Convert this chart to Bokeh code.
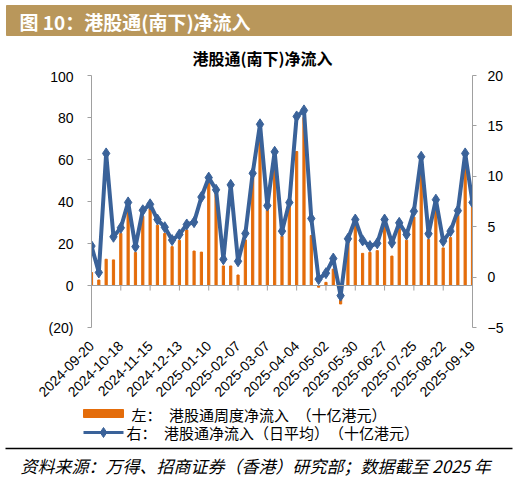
import math
from bokeh.plotting import figure
from bokeh.models import Range1d, LinearAxis, FixedTicker, Span
from bokeh.layouts import column
from bokeh.core.properties import value
from bokeh.embed import file_html
from bokeh.resources import INLINE

# weekly southbound net inflow (HKD bn), left axis
weekly_flow = [6.2, 2.6, 12.5, 12.2, 24.8, 35.7, 15.7, 33.0, 36.6, 28.7, 24.8, 18.5, 21.5,
               26.4, 16.4, 15.9, 49.6, 45.6, 9.3, 9.3, 5.0, 21.7, 52.0, 72.0, 35.8, 61.5,
               23.5, 37.9, 63.8, 80.0, 23.8, -0.8, 1.5, 7.8, -8.8, 21.5, 30.0, 15.3, 15.8,
               16.6, 30.6, 14.0, 27.1, 21.6, 32.6, 55.0, 21.9, 38.1, 17.9, 22.8, 33.5, 56.7,
               38.1]
# daily average net inflow (HKD bn), right axis
daily_avg = [3.08, 0.46, 12.27, 4.0, 4.89, 7.41, 3.02, 6.63, 7.22, 5.71, 4.95, 3.67, 4.23,
             5.22, 5.45, 7.94, 9.87, 8.66, 1.77, 9.15, 1.57, 4.33, 10.3, 15.16, 7.09, 12.43,
             4.56, 7.4, 15.94, 16.54, 5.81, -0.2, 0.39, 1.84, -1.84, 3.8, 5.71, 3.64, 3.08,
             3.35, 5.71, 3.41, 5.38, 4.23, 6.53, 11.94, 4.30, 7.68, 3.57, 4.56, 6.59, 12.27,
             7.41]
date_labels = ["2024-09-20", "2024-10-18", "2024-11-15", "2024-12-13", "2025-01-10",
               "2025-02-07", "2025-03-07", "2025-04-04", "2025-05-02", "2025-05-30",
               "2025-06-27", "2025-07-25", "2025-08-22", "2025-09-19"]
left_ticks = [-20, 0, 20, 40, 60, 80, 100]
right_ticks = [-5, 0, 5, 10, 15, 20]

header_text = "图 10：港股通(南下)净流入"
chart_title = "港股通(南下)净流入"
legend_bar = "左：　港股通周度净流入　（十亿港元）"
legend_line = "右：　港股通净流入（日平均）　（十亿港元）"
source_text = "资料来源：万得、招商证券（香港）研究部；数据截至 2025 年"

ORANGE = "#E46C0A"
BLUE = "#3A6299"
GOLD = "#B9975B"
AXIS = "#A0A0A0"
CJK = "Noto Sans CJK SC"
NUM = "Liberation Sans"
W = 517


def blank_fig(h):
    f = figure(width=W, height=h, output_backend="svg", toolbar_location=None,
               x_range=Range1d(0, W), y_range=Range1d(h, 0),
               x_axis_type=None, y_axis_type=None, min_border=0,
               frame_align=False)
    f.grid.visible = False
    f.outline_line_color = None
    return f


# ---- header + chart title
top = blank_fig(68)
top.quad(left=6, right=511, top=5, bottom=35, color=GOLD)
top.text(x=[19], y=[20.5], text=[header_text], text_color="white",
         text_font=value(CJK), text_font_style="bold", text_font_size="19px",
         text_baseline="middle")
top.text(x=[262], y=[57], text=[chart_title], text_color="black",
         text_font=value(CJK), text_font_style="bold", text_font_size="16px",
         text_align="center", text_baseline="middle")

# ---- main chart
xs = list(range(len(weekly_flow)))
label_pos = [i * 4 for i in range(len(date_labels))]

p = figure(width=W, height=336, output_backend="svg", toolbar_location=None,
           x_range=Range1d(0, len(weekly_flow) - 1), y_range=Range1d(-20, 100),
           min_border_left=91, min_border_right=45, min_border_top=7,
           min_border_bottom=75, frame_align=False)
p.extra_y_ranges = {"right": Range1d(-5, 20)}
p.grid.visible = False
p.outline_line_color = None

p.vbar(x=xs, top=weekly_flow, bottom=0, width=0.3, color=ORANGE)

# zero line with small ticks
p.add_layout(Span(location=0, dimension="width", line_color=AXIS, line_width=1))
p.segment(x0=label_pos, y0=[0] * len(label_pos), x1=label_pos,
          y1=[-2.4] * len(label_pos), line_color=AXIS, line_width=1)

p.line(xs, daily_avg, y_range_name="right", color=BLUE, line_width=4)
p.scatter(xs, daily_avg, y_range_name="right", marker="diamond", size=11,
          color=BLUE)

xa = p.xaxis[0]
xa.ticker = FixedTicker(ticks=label_pos)
xa.major_label_overrides = {pos: lab for pos, lab in zip(label_pos, date_labels)}
xa.major_label_orientation = math.pi / 4
xa.axis_line_color = None
xa.major_tick_line_color = None
xa.minor_tick_line_color = None
xa.major_label_standoff = 10
xa.major_label_text_font = NUM
xa.major_label_text_font_size = "14px"
xa.major_label_text_color = "black"

ya = p.yaxis[0]
ya.ticker = FixedTicker(ticks=left_ticks)
ya.major_label_overrides = {-20: "(20)"}
ya.axis_line_color = AXIS
ya.major_tick_line_color = AXIS
ya.major_tick_in = 0
ya.major_tick_out = 4
ya.minor_tick_line_color = None
ya.major_label_standoff = 14
ya.major_label_text_font = NUM
ya.major_label_text_font_size = "14px"
ya.major_label_text_color = "black"

ra = LinearAxis(y_range_name="right", ticker=FixedTicker(ticks=right_ticks))
ra.axis_line_color = AXIS
ra.major_tick_line_color = AXIS
ra.major_tick_in = 0
ra.major_tick_out = 4
ra.minor_tick_line_color = None
ra.major_label_standoff = 11
ra.major_label_text_font = NUM
ra.major_label_text_font_size = "14px"
ra.major_label_text_color = "black"
p.add_layout(ra, "right")

# ---- legend + source
bot = blank_fig(74)
bot.quad(left=83, right=123, top=5, bottom=13, color=ORANGE)
bot.text(x=[131], y=[9.5], text=[legend_bar], text_color="black",
         text_font=value(CJK), text_font_size="15px", text_baseline="middle")
bot.line(x=[83, 123], y=[28, 28], color=BLUE, line_width=3)
bot.scatter(x=[103], y=[28], marker="diamond", size=10, color=BLUE)
bot.text(x=[126], y=[28], text=[legend_line], text_color="black",
         text_font=value(CJK), text_font_size="15px", text_baseline="middle")
bot.line(x=[5, 512], y=[44, 44], color="black", line_width=1.5)
bot.text(x=[20], y=[61], text=[source_text], text_color="black",
         text_font=value(CJK), text_font_style="italic", text_font_size="17px",
         text_baseline="middle")

layout = column(top, p, bot, spacing=0)
open("out.html", "w").write(file_html(layout, INLINE))
